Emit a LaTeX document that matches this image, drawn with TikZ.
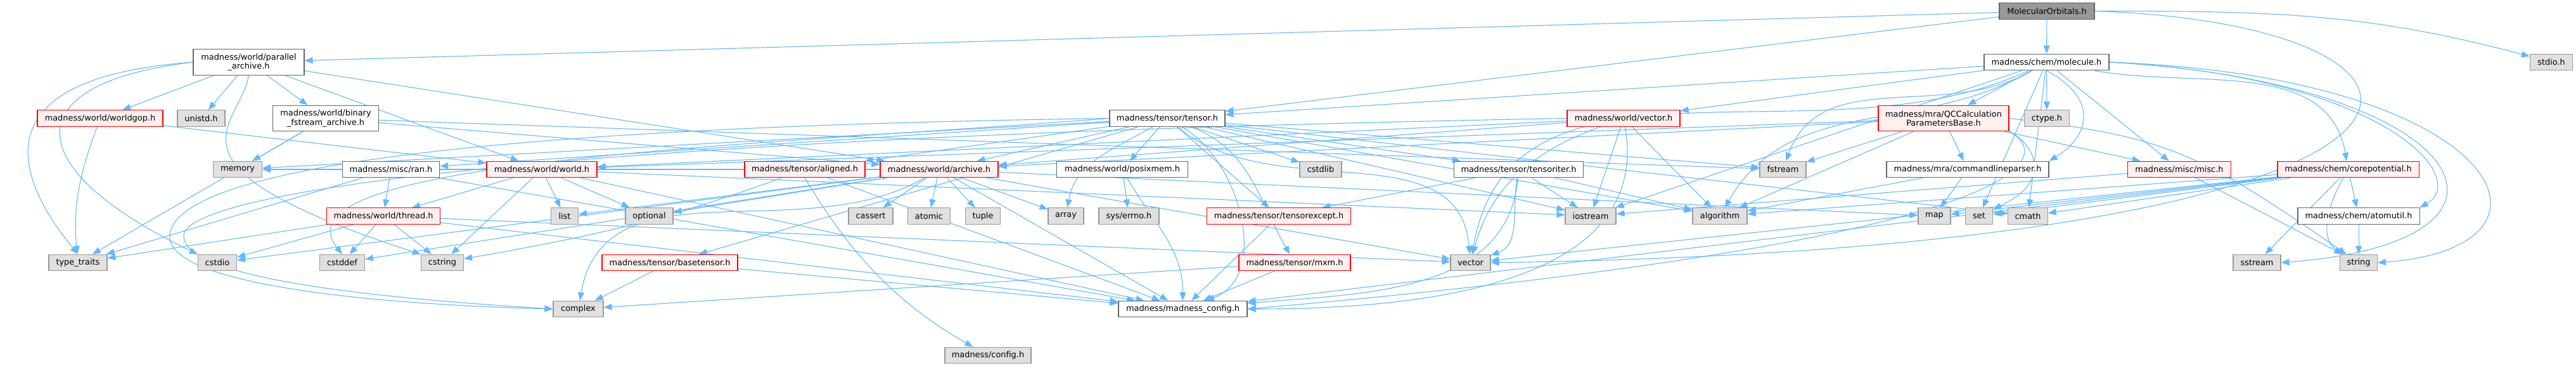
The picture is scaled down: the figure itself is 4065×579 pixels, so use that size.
\documentclass[tikz,border=0pt]{standalone}
\usepackage{fontspec}
\setmainfont{DejaVu Sans}
\usetikzlibrary{arrows.meta}
\definecolor{edgec}{HTML}{63B8FF}
\definecolor{redb}{HTML}{FF0000}
\definecolor{redf}{HTML}{FFF0F0}
\definecolor{sysf}{HTML}{E0E0E0}
\definecolor{sysb}{HTML}{999999}
\definecolor{plainb}{HTML}{666666}
\definecolor{mainf}{HTML}{999999}
\pgfdeclarelayer{bg}
\pgfsetlayers{bg,main}
\tikzset{
  box/.style={draw, line width=1.1pt, inner sep=0pt, minimum height=25.5pt, align=center,
    font=\fontsize{12.9}{14.5}\selectfont},
  twoline/.style={minimum height=40.5pt},
  mainbox/.style={box, fill=mainf, draw=plainb},
  plainbox/.style={box, fill=white, draw=plainb},
  redbox/.style={box, fill=redf, draw=redb},
  sysbox/.style={box, fill=sysf, draw=sysb},
  dep/.style={draw=edgec, line width=1.1pt, -{Triangle[length=13pt,width=10pt]}}
}
\begin{document}
\begin{tikzpicture}[x=1pt,y=-1pt]
\useasboundingbox (0,0) rectangle (4065,579);
% rank 0
\node[mainbox, minimum width=150pt] (mo) at (3230,17.5) {MolecularOrbitals.h};
% rank 1
\node[plainbox, twoline, minimum width=175pt] (pa) at (392.5,98) {madness/world/parallel\\\_archive.h};
\node[plainbox, minimum width=197pt] (mol) at (3229.5,98) {madness/chem/molecule.h};
\node[sysbox, minimum width=67pt] (stdioh) at (4026,98) {stdio.h};
% rank 2
\node[redbox, minimum width=198pt] (wgop) at (158,186.5) {madness/world/worldgop.h};
\node[sysbox, minimum width=75pt] (unistd) at (317.5,186.5) {unistd.h};
\node[plainbox, twoline, minimum width=167pt] (bfa) at (514,186.5) {madness/world/binary\\\_fstream\_archive.h};
\node[plainbox, minimum width=182pt] (tensor) at (1842,186.5) {madness/tensor/tensor.h};
\node[redbox, minimum width=178pt] (vech) at (2562,186.5) {madness/world/vector.h};
\node[redbox, twoline, minimum width=206pt] (qcc) at (3067,186.5) {madness/mra/QCCalculation\\ParametersBase.h};
\node[sysbox, minimum width=70.5pt] (ctype) at (3230,186.5) {ctype.h};
% rank 3
\node[sysbox, minimum width=77pt] (memory) at (375,267) {memory};
\node[plainbox, minimum width=153pt] (ran) at (617,267) {madness/misc/ran.h};
\node[redbox, minimum width=174pt] (world) at (855,267) {madness/world/world.h};
\node[redbox, minimum width=190pt] (aligned) at (1270,267) {madness/tensor/aligned.h};
\node[redbox, minimum width=186pt] (archive) at (1482,267) {madness/world/archive.h};
\node[plainbox, minimum width=207pt] (posix) at (1771,267) {madness/world/posixmem.h};
\node[sysbox, minimum width=66pt] (cstdlib) at (2084,267) {cstdlib};
\node[plainbox, minimum width=204pt] (titer) at (2396.5,267) {madness/tensor/tensoriter.h};
\node[sysbox, minimum width=73pt] (fstream) at (2813.5,267) {fstream};
\node[plainbox, minimum width=256pt] (clp) at (3105,267) {madness/mra/commandlineparser.h};
\node[redbox, minimum width=163pt] (misc) at (3439,267) {madness/misc/misc.h};
\node[redbox, minimum width=223pt] (corepot) at (3705.5,267) {madness/chem/corepotential.h};
% rank 4
\node[redbox, minimum width=179pt] (thread) at (605,340.5) {madness/world/thread.h};
\node[sysbox, minimum width=43pt] (list) at (891,340.5) {list};
\node[sysbox, minimum width=75pt] (optional) at (1024.5,340.5) {optional};
\node[sysbox, minimum width=70pt] (cassert) at (1374,340.5) {cassert};
\node[sysbox, minimum width=67pt] (atomic) at (1466,340.5) {atomic};
\node[sysbox, minimum width=55pt] (tuple) at (1551,340.5) {tuple};
\node[sysbox, minimum width=56pt] (array) at (1682,340.5) {array};
\node[sysbox, minimum width=95pt] (errno) at (1781.5,340.5) {sys/errno.h};
\node[redbox, minimum width=227pt] (texcept) at (2018,340.5) {madness/tensor/tensorexcept.h};
\node[sysbox, minimum width=80pt] (iostream) at (2510,340.5) {iostream};
\node[sysbox, minimum width=86pt] (algorithm) at (2714,340.5) {algorithm};
\node[sysbox, minimum width=51pt] (map) at (3052.5,340.5) {map};
\node[sysbox, minimum width=43pt] (set) at (3123,340.5) {set};
\node[sysbox, minimum width=62.5pt] (cmath) at (3200,340.5) {cmath};
\node[plainbox, minimum width=192pt] (atomutil) at (3722,340.5) {madness/chem/atomutil.h};
% rank 5
\node[sysbox, minimum width=92pt] (typetraits) at (123,414) {type\_traits};
\node[sysbox, minimum width=61pt] (cstdio) at (343,414) {cstdio};
\node[sysbox, minimum width=71pt] (cstddef) at (540,414) {cstddef};
\node[sysbox, minimum width=67pt] (cstring) at (698,414) {cstring};
\node[redbox, minimum width=214pt] (basetensor) at (1057,414) {madness/tensor/basetensor.h};
\node[redbox, minimum width=176pt] (mxm) at (2043,414) {madness/tensor/mxm.h};
\node[sysbox, minimum width=63pt] (vector) at (2320.5,414) {vector};
\node[sysbox, minimum width=75pt] (sstream) at (3561.5,414) {sstream};
\node[sysbox, minimum width=58.5pt] (string) at (3722,414) {string};
% rank 6
\node[sysbox, minimum width=79pt] (complex) at (912.5,487) {complex};
\node[plainbox, minimum width=203pt] (mconfig) at (1866.5,487) {madness/madness\_config.h};
% rank 7
\node[sysbox, minimum width=136pt] (config) at (1559,560) {madness/config.h};

\begin{pgfonlayer}{bg}
% MolecularOrbitals.h
\draw[dep] (mo) -- (pa);
\draw[dep] (mo) -- (tensor);
\draw[dep] (mo) -- (mol);
\draw[dep] (mo.east) to[out=0,in=165] (stdioh);
\draw[dep] (mo.east) .. controls (3960,40) and (3990,390) .. (vector.east);
% parallel_archive.h
\draw[dep] (pa) -- (wgop);
\draw[dep] (pa) -- (unistd);
\draw[dep] (pa) -- (bfa);
\draw[dep] (pa.west) .. controls (0,120) and (0,250) .. (typetraits.north);
\draw[dep] (pa.west) .. controls (30,130) and (20,260) .. (cstdio.north west);
\draw[dep] (pa.south) .. controls (380,200) and (230,260) .. (cstring.north west);
\draw[dep] (pa) -- (world);
\draw[dep] (pa) -- (archive);
% worldgop.h
\draw[dep] (wgop) to[out=-110,in=95] (typetraits);
\draw[dep] (wgop) -- (world);
% binary_fstream_archive.h
\draw[dep] (bfa) -- (memory);
\draw[dep] (bfa) -- (typetraits);
\draw[dep] (bfa) -- (archive);
\draw[dep] (bfa) -- (fstream);
% ran.h
\draw[dep] (ran) -- (thread);
\draw[dep] (ran) -- (typetraits);
\draw[dep] (ran) -- (mconfig);
% thread.h
\draw[dep] (thread) -- (typetraits);
\draw[dep] (thread) -- (cstdio);
\draw[dep] (thread) -- (cstddef);
\draw[dep] (thread) -- (cstring);
\draw[dep] (thread) -- (vector);
\draw[dep] (thread) -- (mconfig);
% world.h
\draw[dep] (world) -- (thread);
\draw[dep] (world) -- (list);
\draw[dep] (world) -- (optional);
\draw[dep] (world) -- (mconfig);
\draw[dep] (world) -- (iostream);
\draw[dep] (world) -- (cstring);
% aligned.h
\draw[dep] (aligned) to[out=-160,in=10] (cstring);
\draw[dep] (aligned) -- (mconfig);
\draw[dep] (aligned.south) .. controls (1330,380) and (1400,470) .. (config);
% archive.h
\draw[dep] (archive) -- (cassert);
\draw[dep] (archive) -- (atomic);
\draw[dep] (archive) -- (tuple);
\draw[dep] (archive) -- (array);
\draw[dep] (archive) -- (list);
\draw[dep] (archive) -- (optional);
\draw[dep] (archive) to[out=-150,in=80] (complex);
\draw[dep] (archive) -- (cstddef);
\draw[dep] (archive) -- (cstdio);
\draw[dep] (archive) -- (vector);
\draw[dep] (archive) -- (map);
\draw[dep] (archive) -- (mconfig);
\draw[dep] (archive) -- (memory);
% posixmem.h
\draw[dep] (posix) -- (errno);
\draw[dep] (posix) to[out=-60,in=90] (mconfig);
% tensorexcept / mxm / basetensor
\draw[dep] (texcept) -- (mconfig);
\draw[dep] (mxm) -- (mconfig);
\draw[dep] (mxm) -- (complex);
\draw[dep] (basetensor) -- (complex);
\draw[dep] (basetensor) -- (mconfig);
% tensoriter.h
\draw[dep] (titer) -- (texcept);
\draw[dep] (titer) -- (iostream);
\draw[dep] (titer) -- (algorithm);
\draw[dep] (titer) to[out=-100,in=20] (vector);
\draw[dep] (titer) to[out=-95,in=5] (mconfig);
% world/vector.h
\draw[dep] (vech) -- (iostream);
\draw[dep] (vech) -- (algorithm);
\draw[dep] (vech) to[out=-160,in=75] (vector);
\draw[dep] (vech) to[out=-80,in=0] (mconfig);
\draw[dep] (vech) -- (archive);
\draw[dep] (vech) -- (world);
\draw[dep] (vech.west) .. controls (900,215) and (300,300) .. (290,370) .. controls (285,440) and (600,470) .. (complex.west);
% QCCalculationParametersBase.h
\draw[dep] (qcc) -- (archive);
\draw[dep] (qcc) -- (world);
\draw[dep] (qcc) -- (fstream);
\draw[dep] (qcc) -- (algorithm);
\draw[dep] (qcc) -- (clp);
\draw[dep] (qcc) -- (misc);
\draw[dep] (qcc.south east) .. controls (3200,220) and (3250,280) .. (set);
\draw[dep] (qcc.east) .. controls (3420,215) and (3470,240) .. (string);
\draw[dep] (qcc.south east) .. controls (3250,250) and (3200,380) .. (mconfig.east);
% commandlineparser.h
\draw[dep] (clp) -- (algorithm);
\draw[dep] (clp) -- (map);
% misc.h
\draw[dep] (misc) -- (string);
\draw[dep] (misc) -- (iostream);
% corepotential.h
\draw[dep] (corepot) -- (atomutil);
\draw[dep] (corepot) to[out=-120,in=150] (string);
\draw[dep] (corepot) -- (sstream);
\draw[dep] (corepot) -- (map);
\draw[dep] (corepot) -- (set);
\draw[dep] (corepot) -- (cmath);
\draw[dep] (corepot) -- (algorithm);
\draw[dep] (corepot) -- (vector);
\draw[dep] (corepot) -- (mconfig);
% atomutil.h
\draw[dep] (atomutil) -- (string);
% molecule.h
\draw[dep] (mol) -- (tensor);
\draw[dep] (mol) -- (vech);
\draw[dep] (mol) -- (qcc);
\draw[dep] (mol) -- (ctype);
\draw[dep] (mol.south) .. controls (3320,160) and (3290,220) .. (clp.north east);
\draw[dep] (mol) -- (misc);
\draw[dep] (mol) to[out=-10,in=100] (corepot);
\draw[dep] (mol.east) .. controls (3760,120) and (3900,280) .. (atomutil.north east);
\draw[dep] (mol) to[out=-150,in=70] (fstream);
\draw[dep] (mol) to[out=-150,in=60] (algorithm);
\draw[dep] (mol) to[out=-155,in=80] (vector);
\draw[dep] (mol) -- (iostream);
\draw[dep] (mol.east) .. controls (3950,120) and (4080,390) .. (string.east);
\draw[dep] (mol.east) .. controls (3900,130) and (4040,380) .. (sstream.east);
\draw[dep] (mol) -- (cmath);
\draw[dep] (mol) -- (set);
% tensor.h
\draw[dep] (tensor) -- (ran);
\draw[dep] (tensor) -- (posix);
\draw[dep] (tensor) -- (aligned);
\draw[dep] (tensor) to[out=-20,in=120] (mxm);
\draw[dep] (tensor) -- (texcept);
\draw[dep] (tensor) -- (titer);
\draw[dep] (tensor) -- (basetensor);
\draw[dep] (tensor) -- (archive);
\draw[dep] (tensor) to[out=-30,in=20] (mconfig);
\draw[dep] (tensor.west) .. controls (800,200) and (280,260) .. (268,370) .. controls (260,450) and (600,480) .. (complex.west);
\draw[dep] (tensor) to[out=-40,in=95] (vector);
\draw[dep] (tensor) -- (cmath);
\draw[dep] (tensor) -- (cstdlib);
\draw[dep] (tensor) to[out=-150,in=80] (array);
\draw[dep] (tensor) -- (algorithm);
\draw[dep] (tensor) -- (iostream);
\draw[dep] (tensor) -- (memory);
\draw[dep] (tensor.west) .. controls (1200,230) and (420,250) .. (cstddef.north);
\draw[dep] (tensor) -- (fstream);
\end{pgfonlayer}
\end{tikzpicture}
\end{document}
